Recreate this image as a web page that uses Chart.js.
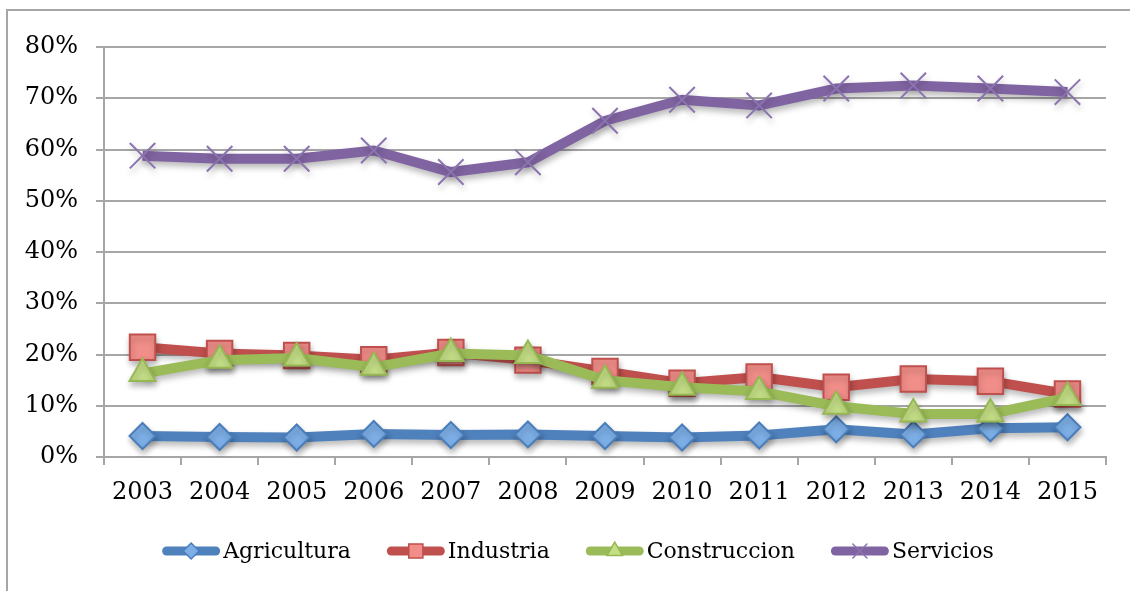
<!DOCTYPE html>
<html lang="es">
<head>
<meta charset="UTF-8">
<title>Sectores 2003-2015</title>
<script src="https://cdn.jsdelivr.net/npm/chart.js"></script>
<style>
    html, body {
        margin: 0;
        padding: 0;
        background: #fff;
        overflow: hidden;
    }
    .frame {
        position: absolute;
        left: 6px;
        top: 9px;
        width: 1200px;
        height: 700px;
        border-left: 2px solid #a6a6a6;
        border-top: 2px solid #a6a6a6;
    }
    .wrap {
        position: absolute;
        left: 0;
        top: 0;
        width: 1130px;
        height: 591px;
    }
</style>
</head>
<body>
<div class="frame"></div>
<div class="wrap"><canvas id="chart"></canvas></div>
<script>
const years = ['2003', '2004', '2005', '2006', '2007', '2008', '2009', '2010', '2011', '2012', '2013', '2014', '2015'];
const agricultura  = [4.1, 3.9, 3.8, 4.5, 4.3, 4.4, 4.1, 3.8, 4.2, 5.4, 4.4, 5.6, 5.8];
const industria    = [21.4, 20.2, 19.8, 19.0, 20.4, 18.9, 16.7, 14.4, 15.6, 13.6, 15.2, 14.8, 12.3];
const construccion = [16.3, 18.9, 19.3, 17.5, 20.2, 19.8, 15.0, 13.6, 12.8, 9.9, 8.4, 8.4, 11.6];
const servicios    = [58.8, 58.2, 58.2, 59.8, 55.6, 57.5, 65.6, 69.7, 68.6, 71.9, 72.5, 71.9, 71.2];
const yTicks = [0, 10, 20, 30, 40, 50, 60, 70, 80];

const FONT = 'DejaVu Serif';
const GRID = '#a6a6a6';

// later series sit on top, like in the office chart
function series(label, data, line, fill, edge, style, radius, legendRadius, order) {
    return {
        label: label,
        data: data,
        order: order,
        borderColor: line,
        backgroundColor: line,
        borderWidth: 10,
        tension: 0,
        pointStyle: style,
        pointRadius: radius,
        pointHoverRadius: radius,
        pointBackgroundColor: fill,
        pointBorderColor: edge,
        pointBorderWidth: 2,
        legendRadius: legendRadius
    };
}

const shadow = {
    id: 'shadow',
    beforeDatasetsDraw(chart) {
        const ctx = chart.ctx;
        ctx.save();
        ctx.shadowColor = 'rgba(0,0,0,0.28)';
        ctx.shadowBlur = 6;
        ctx.shadowOffsetX = 1;
        ctx.shadowOffsetY = 4;
    },
    afterDatasetsDraw(chart) {
        chart.ctx.restore();
    }
};

// legend drawn by hand: thick rounded line, small marker, label
const bottomLegend = {
    id: 'bottomLegend',
    afterDraw(chart, args, opts) {
        const ctx = chart.ctx;
        const sets = chart.data.datasets;
        ctx.save();
        ctx.font = opts.size + 'px "' + FONT + '"';
        const widths = sets.map(ds => opts.line + opts.gap + ctx.measureText(ds.label).width);
        const total = widths.reduce((a, b) => a + b, 0) + opts.spacing * (sets.length - 1);
        let x = opts.centerX - total / 2;
        const cy = opts.centerY;
        sets.forEach((ds, i) => {
            ctx.strokeStyle = ds.borderColor;
            ctx.lineWidth = 9;
            ctx.lineCap = 'round';
            ctx.beginPath();
            ctx.moveTo(x + 4.5, cy);
            ctx.lineTo(x + opts.line - 4.5, cy);
            ctx.stroke();
            ctx.fillStyle = ds.pointBackgroundColor;
            ctx.strokeStyle = ds.pointBorderColor;
            ctx.lineWidth = 1.5;
            Chart.helpers.drawPoint(ctx, {
                pointStyle: ds.pointStyle,
                radius: ds.legendRadius,
                borderWidth: 1.5,
                rotation: 0
            }, x + opts.line / 2, cy);
            ctx.fillStyle = '#000';
            ctx.textAlign = 'left';
            ctx.textBaseline = 'middle';
            ctx.fillText(ds.label, x + opts.line + opts.gap, cy + 1);
            x += widths[i] + opts.spacing;
        });
        ctx.restore();
    }
};

new Chart(document.getElementById('chart'), {
    type: 'line',
    data: {
        labels: years,
        datasets: [
            series('Agricultura', agricultura, '#4F81BD', '#7DAFE7', '#4A7EBB', 'rectRot', 13, 8, 4),
            series('Industria', industria, '#C0504D', '#F28E89', '#C0504D', 'rect', 18, 10, 3),
            series('Construccion', construccion, '#9BBB59', '#C4DE86', '#96B852', 'triangle', 15, 9, 2),
            series('Servicios', servicios, '#8064A2', '#8B73B0', '#8B73B0', 'crossRot', 18, 10, 1)
        ]
    },
    options: {
        responsive: true,
        maintainAspectRatio: false,
        animation: false,
        layout: {
            padding: { left: 0, right: 24, top: 47, bottom: 80 }
        },
        plugins: {
            tooltip: { enabled: false },
            legend: { display: false },
            bottomLegend: {
                size: 22,
                line: 58,
                gap: 3,
                spacing: 36,
                centerX: 578,
                centerY: 551
            }
        },
        scales: {
            x: {
                type: 'category',
                offset: true,
                grid: {
                    offset: true,
                    drawOnChartArea: false,
                    drawTicks: true,
                    tickLength: 8,
                    color: GRID,
                    lineWidth: 2
                },
                border: { color: GRID, width: 2 },
                ticks: {
                    font: { family: FONT, size: 24 },
                    color: '#000',
                    padding: 13,
                    maxRotation: 0,
                    autoSkip: false
                },
                afterFit(scale) { scale.height = 54; }
            },
            y: {
                min: 0,
                max: 80,
                afterBuildTicks(scale) { scale.ticks = yTicks.map(v => ({ value: v })); },
                grid: {
                    color: GRID,
                    lineWidth: 2,
                    tickLength: 8
                },
                border: { color: GRID, width: 2 },
                ticks: {
                    font: { family: FONT, size: 24 },
                    color: '#000',
                    padding: 18,
                    callback: v => v + '%'
                },
                afterFit(scale) { scale.width = 104; }
            }
        }
    },
    plugins: [shadow, bottomLegend]
});
</script>
</body>
</html>
